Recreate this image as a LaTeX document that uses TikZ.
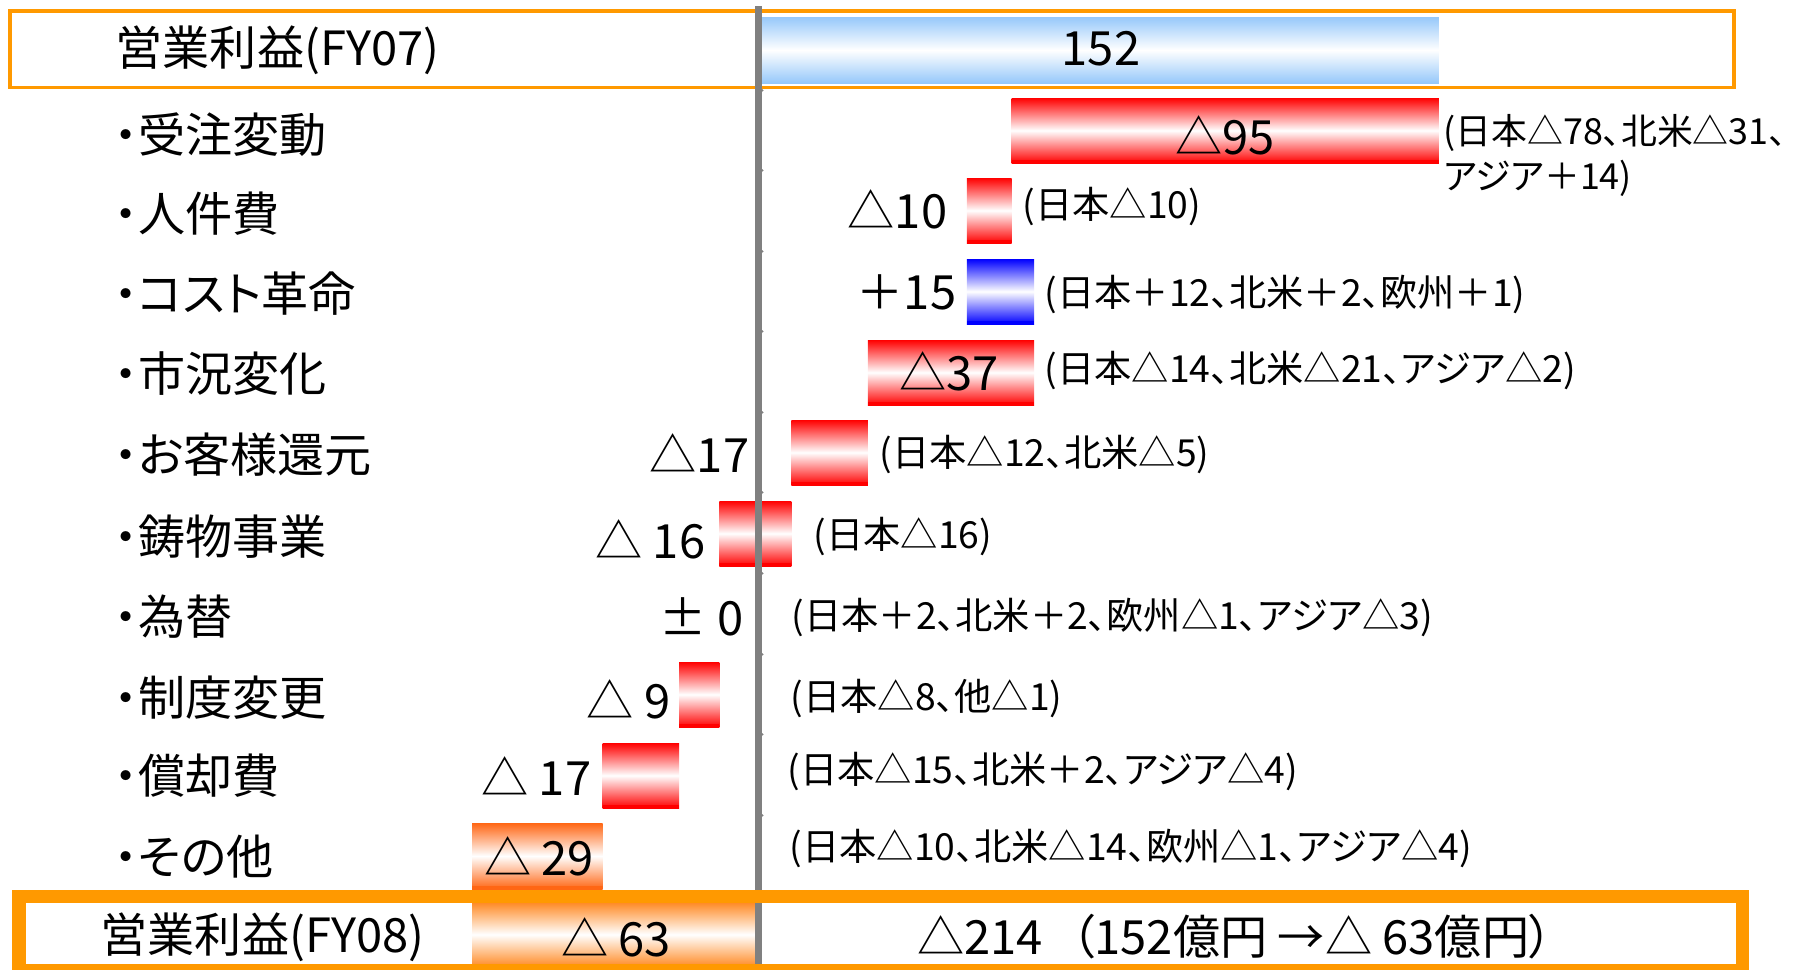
\documentclass[tikz,border=0pt]{standalone}
\usepackage{fontspec}
\setmainfont{Noto Sans CJK JP}[RawFeature=+palt]
\definecolor{boxorange}{RGB}{255,153,0}
\definecolor{axisgray}{RGB}{128,128,128}
\definecolor{lightblue}{RGB}{150,200,250}
\definecolor{otherorange}{RGB}{255,102,20}
\definecolor{sumorange}{RGB}{255,140,40}

\begin{document}
\begin{tikzpicture}[x=0.01cm,y=-0.01cm]
    \tikzset{big/.style={inner sep=0,font=\fontsize{13.4}{16}\selectfont}}
    \tikzset{item/.style={big,anchor=west}}
    \tikzset{amount/.style={big,anchor=east}}
    \tikzset{note/.style={inner sep=0,anchor=west,align=left,
        font=\fontsize{10.6}{12.8}\selectfont}}
    \tikzset{bar/.style={top color=#1,bottom color=#1,middle color=white,
        path picture={\fill[#1] (path picture bounding box.south west)
            rectangle ([yshift=0.033cm]path picture bounding box.south east);}}}
    \tikzset{total bar/.style={top color=#1,bottom color=#1,middle color=white}}

    \useasboundingbox (0,0) rectangle (1808,969);

    % FY07 frame
    \draw[boxorange,line width=0.035cm] (10,11) rectangle (1734,87.5);

    % bars, x in oku-yen
    \begin{scope}[xshift=7.55cm,x=0.04493cm]
        \shade[total bar=lightblue] (0,17) rectangle (152,83);
        \shade[bar=red] (57,98) rectangle (152,163);
        \shade[bar=red] (47,178) rectangle (57,243);
        \shade[bar=blue] (47,259) rectangle (62,324);
        \shade[bar=red] (25,340) rectangle (62,405);
        \shade[bar=red] (8,420) rectangle (25,485);
        \shade[bar=red] (-8,501) rectangle (8,566);
        \shade[bar=red] (-17,662) rectangle (-8,727);
        \shade[bar=red] (-34,743) rectangle (-17,808);
        \shade[bar=otherorange] (-63,823) rectangle (-34,889);
        \shade[total bar=sumorange] (-63,903) rectangle (0,966);
    \end{scope}

    % axis
    \draw[axisgray,line width=0.07cm] (758,6) -- (758,966);
    \draw[axisgray,line width=0.03cm,line cap=round] (758,90) -- +(4,0)
        (758,170) -- +(4,0) (758,251) -- +(4,0) (758,331) -- +(4,0)
        (758,412) -- +(4,0) (758,492) -- +(4,0) (758,573) -- +(4,0)
        (758,654) -- +(4,0) (758,734) -- +(4,0) (758,815) -- +(4,0);

    % FY08 frame
    \draw[boxorange,line width=0.13cm] (19,896.5) rectangle (1742,970);

    \node[item] (fy07) at (115,50) {営業利益(FY07)};
    \node[big] (v152) at (1101,49) {152};

    \node[item] (juchu) at (114,135) {・受注変動};
    \node[item] (jinken) at (114,214) {・人件費};
    \node[item] (cost) at (114,294) {・コスト革命};
    \node[item] (shikyo) at (114,374) {・市況変化};
    \node[item] (kangen) at (114,455) {・お客様還元};
    \node[item] (chuzo) at (114,537) {・鋳物事業};
    \node[item] (kawase) at (114,617) {・為替};
    \node[item] (seido) at (114,698) {・制度変更};
    \node[item] (shokyaku) at (114,776) {・償却費};
    \node[item] (sonota) at (114,857) {・その他};
    \node[item] (fy08) at (100,937) {営業利益(FY08)};

    \node[big] (d-juchu) at (1225,135) {△95};
    \node[amount] (d-jinken) at (948,209) {△10};
    \node[amount] (d-cost) at (957,292) {＋15};
    \node[big] (d-shikyo) at (949,371) {△37};
    \node[amount] (d-kangen) at (750,453) {△17};
    \node[amount] (d-chuzo) at (706,539) {△ 16};
    \node[amount] (d-kawase) at (744,617) {± 0};
    \node[amount] (d-seido) at (671,699) {△ 9};
    \node[amount] (d-shokyaku) at (592,776) {△ 17};
    \node[big] (d-sonota) at (539,856) {△ 29};
    \node[big] (d-fy08) at (616,937) {△ 63};
    \node[big] (total) at (1235,937) {△214\hspace{0.6em}（152億円 →△ 63億円）};

    \node[note,font=\fontsize{10.2}{12.8}\selectfont] (n-juchu) at (1443,155) {(日本△78、北米△31、\\アジア＋14)};
    \node[note] (n-jinken) at (1022,207) {(日本△10)};
    \node[note] (n-cost) at (1044,294) {(日本＋12、北米＋2、欧州＋1)};
    \node[note] (n-shikyo) at (1044,371) {(日本△14、北米△21、アジア△2)};
    \node[note] (n-kangen) at (879,455) {(日本△12、北米△5)};
    \node[note] (n-chuzo) at (813,537) {(日本△16)};
    \node[note] (n-kawase) at (791,617) {(日本＋2、北米＋2、欧州△1、アジア△3)};
    \node[note] (n-seido) at (790,699) {(日本△8、他△1)};
    \node[note] (n-shokyaku) at (787,772) {(日本△15、北米＋2、アジア△4)};
    \node[note] (n-sonota) at (789,848) {(日本△10、北米△14、欧州△1、アジア△4)};
\end{tikzpicture}
\end{document}
